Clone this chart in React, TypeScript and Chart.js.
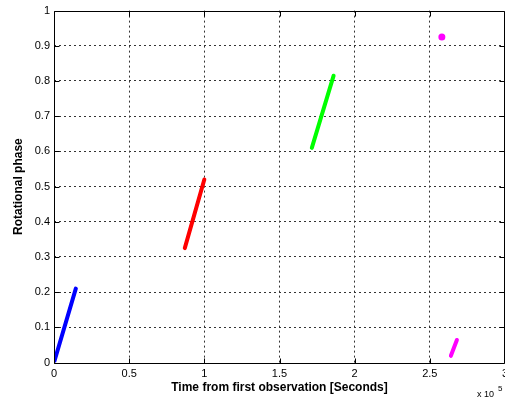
import React, { useEffect, useRef } from "react";
import { Chart, registerables } from "chart.js";

Chart.register(...registerables);

// Data in seconds (x) and rotational phase (y)
const blueX = [0, 14500];
const blueY = [0, 0.21];
const redX = [87000, 100000];
const redY = [0.325, 0.52];
const greenX = [171500, 186000];
const greenY = [0.61, 0.815];
const magentaSegX = [264000, 268000];
const magentaSegY = [0.019, 0.064];
const magentaDotX = [258000];
const magentaDotY = [0.925];

const xTicks = [0, 50000, 100000, 150000, 200000, 250000, 300000];
const xTickLabels = ["0", "0.5", "1", "1.5", "2", "2.5", "3"];
const yTicks = [0, 0.1, 0.2, 0.3, 0.4, 0.5, 0.6, 0.7, 0.8, 0.9, 1];

const pts = (xs: number[], ys: number[]) => xs.map((x, i) => ({ x, y: ys[i] }));

const FONT = "'Liberation Sans', Arial, Helvetica, sans-serif";

const boxPlugin = {
  id: "matlabBox",
  afterDraw(chart: any) {
    const { ctx, chartArea } = chart;
    const { left, right, top, bottom } = chartArea;
    const xs = chart.scales.x;
    const ys = chart.scales.y;
    ctx.save();
    ctx.strokeStyle = "#000";
    ctx.lineWidth = 1;
    ctx.setLineDash([]);
    ctx.beginPath();
    const L = Math.round(left) + 0.5;
    const R = Math.round(right) - 0.5;
    const T = Math.round(top) + 0.5;
    const B = Math.round(bottom) + 0.5;
    ctx.rect(L, T, R - L, B - T);
    const tl = 5;
    xTicks.forEach((v) => {
      const px = Math.round(xs.getPixelForValue(v)) + 0.5;
      ctx.moveTo(px, B);
      ctx.lineTo(px, B - tl);
      ctx.moveTo(px, T);
      ctx.lineTo(px, T + tl);
    });
    yTicks.forEach((v) => {
      const py = Math.round(ys.getPixelForValue(v)) + 0.5;
      ctx.moveTo(L, py);
      ctx.lineTo(L + tl, py);
      ctx.moveTo(R, py);
      ctx.lineTo(R - tl, py);
    });
    ctx.stroke();
    ctx.fillStyle = "#000";
    // x tick labels
    ctx.font = `11px ${FONT}`;
    ctx.textAlign = "center";
    ctx.textBaseline = "middle";
    xTicks.forEach((v, i) => {
      ctx.fillText(xTickLabels[i], xs.getPixelForValue(v), B + 10);
    });
    // x 10^5 multiplier
    ctx.textBaseline = "alphabetic";
    ctx.textAlign = "left";
    ctx.font = `9px ${FONT}`;
    ctx.fillText("x 10", 477, 397);
    ctx.font = `8px ${FONT}`;
    ctx.fillText("5", 498, 391);
    ctx.restore();
  },
};

export default function App() {
  const ref = useRef<HTMLCanvasElement>(null);
  useEffect(() => {
    document.body.style.margin = "0";
    const lineDs = (label: string, xs: number[], ys: number[], color: string) => ({
      label,
      data: pts(xs, ys),
      showLine: true,
      borderColor: color,
      backgroundColor: color,
      borderWidth: 4,
      pointRadius: 0,
      borderCapStyle: "round" as const,
    });
    const gridColor = (edgeA: number, edgeB: number) => (c: any) =>
      c.tick && (c.tick.value === edgeA || c.tick.value === edgeB) ? "rgba(0,0,0,0)" : "#333";
    const chart = new Chart(ref.current!, {
      type: "scatter",
      data: {
        datasets: [
          lineDs("blue", blueX, blueY, "#0000ff"),
          lineDs("red", redX, redY, "#ff0000"),
          lineDs("green", greenX, greenY, "#00ff00"),
          lineDs("magenta", magentaSegX, magentaSegY, "#ff00ff"),
          {
            label: "dot",
            data: pts(magentaDotX, magentaDotY),
            pointRadius: 3.5,
            pointBackgroundColor: "#ff00ff",
            pointBorderColor: "#ff00ff",
            borderWidth: 0,
          },
        ],
      },
      plugins: [boxPlugin],
      options: {
        animation: false,
        responsive: false,
        maintainAspectRatio: false,
        layout: { autoPadding: false, padding: { top: 10, left: 0, right: 0, bottom: 0 } },
        plugins: { legend: { display: false }, tooltip: { enabled: false } },
        scales: {
          x: {
            type: "linear",
            min: 0,
            max: 300000,
            afterBuildTicks: (s: any) => {
              s.ticks = xTicks.map((v) => ({ value: v }));
            },
            afterFit: (s: any) => {
              s.height = 37.5;
            },
            border: { display: false, dash: [2, 3] },
            grid: {
              drawTicks: false,
              color: gridColor(0, 300000),
              lineWidth: 1,
            },
            ticks: { display: false },
            title: {
              display: true,
              text: "Time from first observation [Seconds]",
              color: "#000",
              font: { family: FONT, size: 12, weight: "bold" },
              padding: { top: 0, bottom: 5 },
            },
          },
          y: {
            type: "linear",
            min: 0,
            max: 1,
            afterBuildTicks: (s: any) => {
              s.ticks = yTicks.map((v) => ({ value: v }));
            },
            afterFit: (s: any) => {
              s.width = 54;
            },
            border: { display: false, dash: [2, 3] },
            grid: {
              drawTicks: false,
              color: gridColor(0, 1),
              lineWidth: 1,
            },
            ticks: {
              padding: 4,
              color: "#000",
              font: { family: FONT, size: 11 },
              callback: (v: any) => String(Math.round(Number(v) * 10) / 10),
            },
            title: {
              display: true,
              text: "Rotational phase",
              color: "#000",
              font: { family: FONT, size: 12, weight: "bold" },
              padding: { top: 11, bottom: 0 },
            },
          },
        },
      },
    });
    return () => chart.destroy();
  }, []);
  return <canvas ref={ref} width={505} height={400} style={{ display: "block" }} />;
}
